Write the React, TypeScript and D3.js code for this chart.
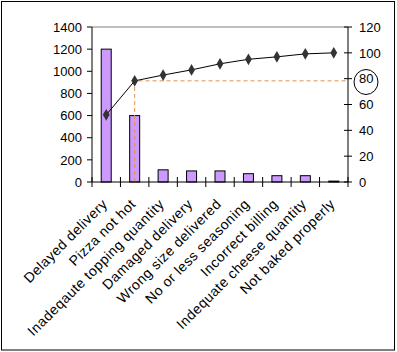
import * as d3 from 'd3'

const categories = [
  'Delayed delivery',
  'Pizza not hot',
  'Inadeqaute topping quantity',
  'Damaged delivery',
  'Wrong size delivered',
  'No or less seasoning',
  'Incorrect billing',
  'Indequate cheese quantity',
  'Not baked properly',
]
const counts = [1200, 600, 110, 100, 100, 75, 57, 57, 8]
const cumulativePct = [52, 78.3, 82.8, 86.8, 91.5, 95, 96.9, 99.2, 100]
const leftTicks = [0, 200, 400, 600, 800, 1000, 1200, 1400]
const rightTicks = [0, 20, 40, 60, 80, 100, 120]
const cutoffIndex = 1

const W = 397
const H = 352
const font = 'Arial, "Liberation Sans", sans-serif'

export default function App() {
  const left = 92, right = 348, top = 27, bottom = 182
  const x = d3.scaleBand<string>().domain(categories).range([left, right])
  const yL = d3.scaleLinear().domain([0, 1400]).range([bottom, top])
  const yR = d3.scaleLinear().domain([0, 120]).range([bottom, top])
  const bw = 10
  const cx = (c: string) => (x(c) as number) + x.bandwidth() / 2

  const line = d3.line<number>()
    .x((_, i) => cx(categories[i]))
    .y(d => yR(d))
  const diamond = d3.symbol().type(d3.symbolDiamond).size(40)()

  const bounds = d3.range(categories.length + 1).map(i => left + i * x.bandwidth())
  const px = cx(categories[cutoffIndex])
  const py = yR(cumulativePct[cutoffIndex])

  return (
    <svg width={W} height={H} style={{ position: 'absolute', left: 0, top: 0, display: 'block' }}
      fontFamily={font} fontSize={13}>
      <rect x={0} y={0} width={W} height={H} fill="#fff" />
      <rect x={1.5} y={1.5} width={393} height={348.5} fill="none" stroke="#000" />

      {/* top gridline */}
      <line x1={left} x2={right} y1={top} y2={top} stroke="#808080" />

      {/* bars */}
      {counts.map((v, i) => (
        <rect key={i} x={cx(categories[i]) - bw / 2} y={yL(v)} width={bw} height={bottom - yL(v)}
          fill="#cc99ff" stroke="#000" strokeWidth={1} />
      ))}

      {/* 80% cutoff */}
      <path d={`M${px},${bottom}V${py}H${right}`} fill="none" stroke="#e0904a" strokeDasharray="4,3" />

      {/* cumulative line */}
      <path d={line(cumulativePct) as string} fill="none" stroke="#000" strokeWidth={1} />
      {cumulativePct.map((v, i) => (
        <path key={i} d={diamond as string} transform={`translate(${cx(categories[i])},${yR(v)})`} fill="#333" />
      ))}

      {/* left axis */}
      <line x1={left} x2={left} y1={top} y2={bottom} stroke="#000" />
      {leftTicks.map(t => (
        <g key={t}>
          <line x1={left - 5} x2={left} y1={yL(t)} y2={yL(t)} stroke="#000" />
          <text x={left - 10} y={yL(t)} dy="0.36em" textAnchor="end">{t}</text>
        </g>
      ))}

      {/* right axis */}
      <line x1={right} x2={right} y1={top} y2={bottom} stroke="#000" />
      {rightTicks.map(t => (
        <g key={t}>
          <line x1={right - 4} x2={right + 4} y1={yR(t)} y2={yR(t)} stroke="#000" />
          <text x={right + 11} y={yR(t)} dy="0.36em" textAnchor="start">{t}</text>
        </g>
      ))}
      <ellipse cx={366} cy={82} rx={12} ry={12.5} fill="none" stroke="#000" />

      {/* category axis */}
      <line x1={left} x2={right} y1={bottom} y2={bottom} stroke="#000" />
      {bounds.map((b, i) => (
        <line key={i} x1={b} x2={b} y1={bottom - 5} y2={bottom + 5} stroke="#000" />
      ))}
      {categories.map(c => (
        <text key={c} transform={`translate(${cx(c) + 2},${bottom + 23}) rotate(-45)`} textAnchor="end"
          fontSize={14} letterSpacing={0.5}>{c}</text>
      ))}
    </svg>
  )
}
